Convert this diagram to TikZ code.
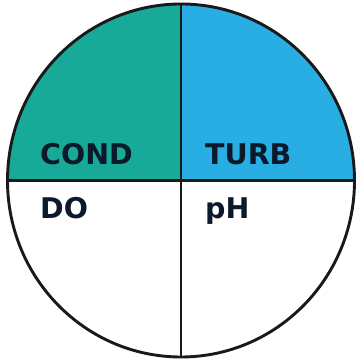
\documentclass[tikz,border=0pt]{standalone}
\usepackage{fontspec}
\setmainfont{DejaVu Sans}
\definecolor{tealq}{HTML}{17AA99}
\definecolor{blueq}{HTML}{29AEE4}
\definecolor{navy}{HTML}{0A1A2A}
\begin{document}
\begin{tikzpicture}[x=1pt,y=1pt,
  lbl/.style={anchor=base west,inner sep=0pt,font=\bfseries\fontsize{28.5}{28.5}\selectfont,text=navy},
  edge/.style={line width=2.9pt,draw=black!90}]
\useasboundingbox (0,0) rectangle (356,361);
\coordinate (c) at (181,180.5);
\fill[tealq] (c) -- ++(-173.5,0) arc[start angle=180,end angle=90,x radius=173.5,y radius=176.5] -- cycle;
\fill[blueq] (c) -- ++(0,176.5) arc[start angle=90,end angle=0,x radius=173.5,y radius=176.5] -- cycle;
\draw[edge] (c) ellipse[x radius=173.5,y radius=176.5];
\coordinate (l) at (7.5,180.5);
\coordinate (r) at (354.5,180.5);
\coordinate (t) at (181,357);
\coordinate (b) at (181,4);
\draw[edge] (l) -- (r);
\draw[edge] (t) -- (b);
\node[lbl] (cond) at (40,196) {COND};
\node[lbl] (turb) at (205,196) {TURB};
\node[lbl] (do) at (40,142) {DO};
\node[lbl] (ph) at (205,142) {pH};
\end{tikzpicture}
\end{document}
